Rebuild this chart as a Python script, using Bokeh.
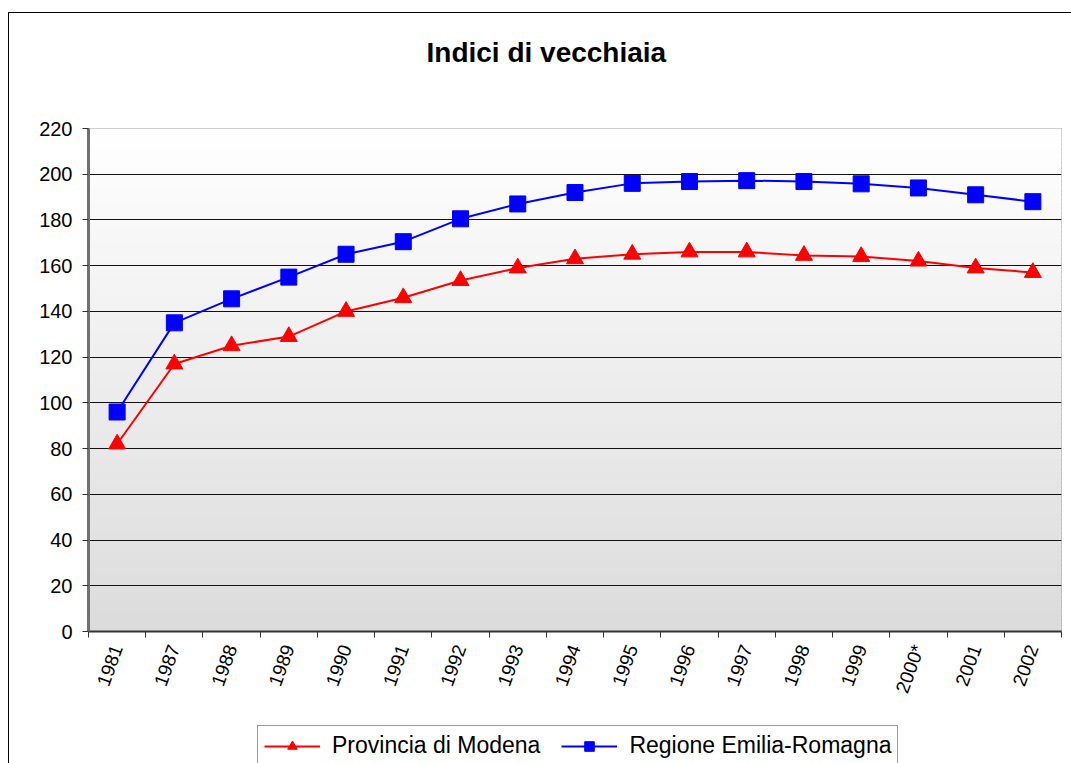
import numpy as np
from bokeh.plotting import figure
from bokeh.layouts import column
from bokeh.models import FixedTicker, Legend, LegendItem, Range1d, ColumnDataSource, Title
from bokeh.embed import file_html
from bokeh.resources import INLINE

years = ["1981", "1987", "1988", "1989", "1990", "1991", "1992", "1993", "1994",
         "1995", "1996", "1997", "1998", "1999", "2000*", "2001", "2002"]
modena = [82, 117, 125, 129, 140, 146, 153.5, 159, 163, 165, 166, 166, 164.5, 164, 162, 159, 157]
emilia = [96, 135, 145.5, 155, 165, 170.5, 180.5, 187, 192, 196, 196.8, 197.2, 196.8, 195.8, 194, 191, 188]
series_names = ["Provincia di Modena", "Regione Emilia-Romagna"]
y_ticks = list(range(0, 221, 20))

FONT = "Liberation Sans"
RED, BLUE = "#ff0000", "#0000ff"
n = len(years)
xs = np.arange(n) + 0.5

p = figure(frame_width=973, frame_height=503,
           min_border_left=79, min_border_right=10, min_border_top=115, min_border_bottom=93,
           x_range=Range1d(0, n), y_range=Range1d(0, 220),
           output_backend="svg", toolbar_location=None, tools="")
p.background_fill_color = "white"
p.border_fill_color = "white"

# title (outermost) + spacer title between it and the frame
p.title.text = "Indici di vecchiaia"
p.title.text_font = FONT
p.title.text_font_size = "28px"
p.title.text_font_style = "bold"
p.title.text_color = "black"
p.title.align = "left"
p.title.offset = 338
p.title.standoff = 0
p.add_layout(Title(text="\u00a0", text_font_size="10px", standoff=48), "above")

# gradient background (decorative)
edges = np.linspace(0, 220, 111)
shades = np.linspace(220, 255, 110)
cols = ["#%02x%02x%02x" % (int(s), int(s), int(s)) for s in shades]
p.quad(left=0, right=n, bottom=edges[:-1], top=edges[1:], fill_color=cols,
       line_color=cols, line_width=1, level="image")

p.outline_line_color = "#808080"
p.outline_line_width = 1

p.xgrid.grid_line_color = None
p.ygrid.ticker = FixedTicker(ticks=y_ticks)
p.ygrid.grid_line_color = "#111111"
p.ygrid.grid_line_width = 1

p.yaxis.ticker = FixedTicker(ticks=y_ticks)
p.yaxis.axis_line_color = "#707070"
p.yaxis.axis_line_width = 3
p.yaxis.major_tick_line_color = "#333333"
p.yaxis.major_tick_out = 6
p.yaxis.major_tick_in = 0
p.yaxis.minor_tick_line_color = None
p.yaxis.major_label_text_font = FONT
p.yaxis.major_label_text_font_size = "20px"
p.yaxis.major_label_text_color = "black"
p.yaxis.major_label_standoff = 10

p.xaxis.ticker = FixedTicker(ticks=list(xs), minor_ticks=list(range(0, n + 1)))
p.xaxis.major_label_overrides = {float(x): y for x, y in zip(xs, years)}
p.xaxis.major_tick_line_color = None
p.xaxis.minor_tick_line_color = "#333333"
p.xaxis.minor_tick_out = 6
p.xaxis.minor_tick_in = 0
p.xaxis.axis_line_color = "#333333"
p.xaxis.axis_line_width = 2
p.xaxis.major_label_orientation = np.deg2rad(70)
p.xaxis.major_label_text_font = FONT
p.xaxis.major_label_text_font_size = "19px"
p.xaxis.major_label_text_color = "black"
p.xaxis.major_label_standoff = 8

src = ColumnDataSource(dict(x=xs, modena=modena, emilia=emilia))
p.line("x", "modena", source=src, line_color=RED, line_width=2)
p.scatter("x", "modena", source=src, marker="triangle", size=17, fill_color=RED, line_color=RED)
p.line("x", "emilia", source=src, line_color=BLUE, line_width=2)
p.scatter("x", "emilia", source=src, marker="square", size=16, fill_color=BLUE, line_color=BLUE)

# legend strip below the chart (its renderers hold no visible data, only legend samples)
pl = figure(width=780, height=40, min_border=0, x_range=Range1d(0, 1), y_range=Range1d(0, 1),
            x_axis_type=None, y_axis_type=None, output_backend="svg",
            toolbar_location=None, tools="")
pl.outline_line_color = None
pl.background_fill_color = None
pl.border_fill_color = None
pl.xgrid.grid_line_color = None
pl.ygrid.grid_line_color = None
blank = ColumnDataSource(dict(x=[np.nan], y=[np.nan]))
lr1 = pl.line("x", "y", source=blank, line_color=RED, line_width=2)
lm1 = pl.scatter("x", "y", source=blank, marker="triangle", size=17, fill_color=RED, line_color=RED)
lr2 = pl.line("x", "y", source=blank, line_color=BLUE, line_width=2)
lm2 = pl.scatter("x", "y", source=blank, marker="square", size=16, fill_color=BLUE, line_color=BLUE)
legend = Legend(items=[LegendItem(label=series_names[0], renderers=[lr1, lm1]),
                       LegendItem(label=series_names[1], renderers=[lr2, lm2])],
                orientation="horizontal", location="top_left")
legend.label_text_font = FONT
legend.label_text_font_size = "23px"
legend.label_text_color = "black"
legend.glyph_width = 56
legend.glyph_height = 24
legend.label_standoff = 12
legend.spacing = 21
legend.padding = 6
legend.margin = 1
legend.border_line_color = "#333333"
legend.border_line_width = 1
legend.background_fill_color = "white"
legend.background_fill_alpha = 1
pl.add_layout(legend, "center")
pl.margin = (0, 0, 0, 168)

layout = column(p, pl, spacing=0)
layout.margin = (12, 0, 0, 8)
layout.styles = {"border-left": "1px solid black", "border-top": "1px solid black"}

open("out.html", "w").write(file_html(layout, INLINE))
